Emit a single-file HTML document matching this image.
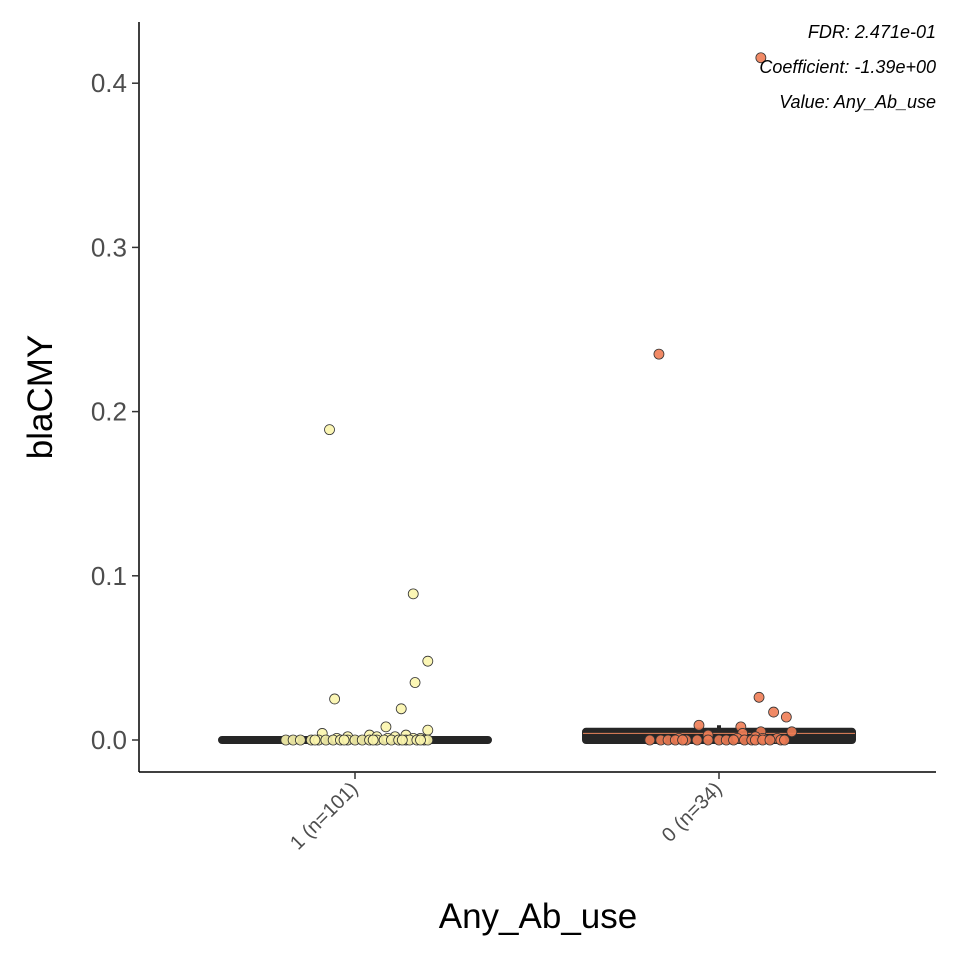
<!DOCTYPE html>
<html><head><meta charset="utf-8"><style>
body{margin:0;background:#fff}
svg text{font-family:"Liberation Sans",sans-serif}
</style></head><body>
<svg id="chart" width="960" height="960">
<g id="axes"></g><g id="marks"></g>
<text x="936" y="38" text-anchor="end" font-size="18" font-style="italic" fill="#000">FDR: 2.471e-01</text>
<text x="936" y="73" text-anchor="end" font-size="18" font-style="italic" fill="#000">Coefficient: -1.39e+00</text>
<text x="936" y="108" text-anchor="end" font-size="18" font-style="italic" fill="#000">Value: Any_Ab_use</text>
<text x="538" y="928" text-anchor="middle" font-size="35" fill="#000">Any_Ab_use</text>
<text transform="translate(52,397) rotate(-90)" text-anchor="middle" font-size="35" fill="#000">blaCMY</text>
</svg>
<script>
const categories=["1 (n=101)","0 (n=34)"];
const yTicks=[0,0.1,0.2,0.3,0.4];
const yTickLabels=["0.0","0.1","0.2","0.3","0.4"];
const medians=[0.0,0.004];
const q1=[0.0,0.0];
const q3=[0.0,0.005];
const whiskerTop=[0.0,0.009];
const g1Values=[0.189,0.089,0.048,0.035,0.025,0.019,0.008,0.006,0.004,0.003,0.003,0.002,0.002,0.002,0.001,0.001,0.001,0.001,0,0,0,0,0,0,0,0,0,0,0,0,0,0,0,0,0,0,0,0,0,0,0,0,0,0];
const g1Jitter=[-0.07,0.16,0.2,0.165,-0.056,0.127,0.085,0.2,-0.09,0.04,0.14,-0.02,0.06,0.11,-0.05,0.09,0.16,0.18,-0.19,-0.17,-0.15,-0.12,-0.1,-0.08,-0.06,-0.04,-0.02,0,0.02,0.04,0.06,0.08,0.1,0.12,0.14,0.15,0.17,0.19,0.2,-0.11,0.05,0.13,-0.03,0.18];
const g0Values=[0.4155,0.235,0.026,0.017,0.014,0.009,0.008,0.005,0.005,0.004,0.003,0.002,0.001,0.001,0.001,0.001,0,0,0,0,0,0,0,0,0,0,0,0,0,0,0,0,0,0];
const g0Jitter=[0.115,-0.165,0.11,0.15,0.185,-0.055,0.06,0.115,0.2,0.065,-0.03,0.1,-0.11,0.05,0.12,0.16,-0.19,-0.16,-0.14,-0.12,-0.09,-0.06,-0.03,0,0.02,0.04,0.07,0.09,0.1,0.12,0.14,0.17,0.18,-0.1];
const NS="http://www.w3.org/2000/svg";
const plot={l:139,r:936,t:22,b:772};
function y(v){return 740-v*1642;}
function xc(i){return 355+i*364;}
function xj(i,j){return xc(i)+j*364;}
function mk(tag,attrs,parent){const e=document.createElementNS(NS,tag);for(const k in attrs)e.setAttribute(k,attrs[k]);parent.appendChild(e);return e;}
const axes=document.getElementById('axes'),marks=document.getElementById('marks');
let e=mk('line',{x1:plot.l,x2:plot.l,y1:plot.t,y2:plot.b,stroke:'#000','stroke-width':1.5},axes);


e=mk('line',{x1:plot.l,x2:plot.r,y1:plot.b,y2:plot.b,stroke:'#000','stroke-width':1.5},axes);


yTicks.forEach((t,i)=>{
 let l=mk('line',{x1:plot.l-7,x2:plot.l,y1:y(t),y2:y(t),stroke:'#333','stroke-width':1.5},axes);
 
 
 let tx=mk('text',{x:plot.l-12,y:y(t)+9,'text-anchor':'end','font-size':26,fill:'#4d4d4d'},axes);
 tx.textContent=yTickLabels[i];
 
 
});
categories.forEach((c,i)=>{
 let l=mk('line',{x1:xc(i),x2:xc(i),y1:plot.b,y2:plot.b+7,stroke:'#333','stroke-width':1.5},axes);
 
 
 let tx=mk('text',{transform:`translate(${xc(i)+4},${plot.b+18}) rotate(-45)`,'text-anchor':'end','font-size':20,fill:'#4d4d4d'},axes);
 tx.textContent=c;
 
 
 const hw=136;
 let w=mk('line',{x1:xc(i),x2:xc(i),y1:y(whiskerTop[i]),y2:y(q3[i]),stroke:'#262626','stroke-width':4},marks);
 
 
 let top=Math.min(y(q3[i]),y(medians[i])), bot=y(q1[i]);
 let b=mk('rect',{x:xc(i)-hw,y:top-3,width:hw*2,height:bot-top+6,rx:3,fill:'#262626',stroke:'#262626','stroke-width':2},marks);
 
 
 if(i==1){let m=mk('line',{x1:xc(i)-hw,x2:xc(i)+hw,y1:y(medians[i]),y2:y(medians[i]),stroke:'#e8845c','stroke-width':1},marks);
 
 }
});
function pts(vals,jit,i,fill){vals.forEach((v,k)=>{
 let c=mk('circle',{cx:xj(i,jit[k]),cy:y(v),r:5,fill:fill,'fill-opacity':0.9,stroke:'#333','stroke-width':0.8},marks);
 
 
});}
pts(g1Values,g1Jitter,0,'#fbf5ad');
pts(g0Values,g0Jitter,1,'#ef7d55');
</script>
</body></html>
